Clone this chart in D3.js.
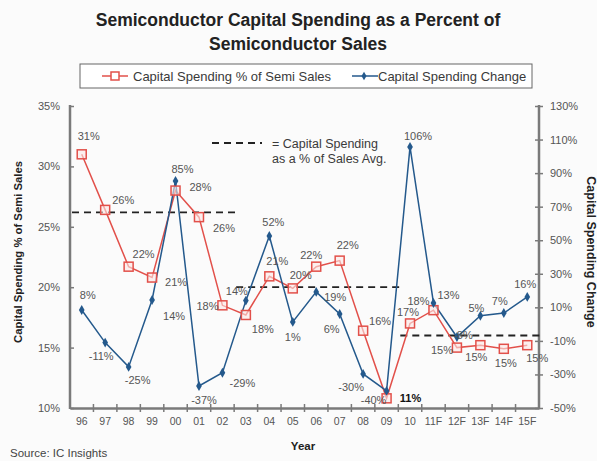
<!DOCTYPE html>
<html>
<head>
<meta charset="utf-8">
<script src="https://d3js.org/d3.v7.min.js"></script>
<style>
  body { margin: 0; background: #fbfbfb; }
  text { font-family: "Liberation Sans", Arial, sans-serif; }
</style>
</head>
<body>
<script>
// data ..........................................
var years = ["96","97","98","99","00","01","02","03","04","05","06","07","08","09","10","11F","12F","13F","14F","15F"];
var capexPct = [31, 26.4, 21.7, 20.8, 28, 25.8, 18.5, 17.7, 20.9, 19.9, 21.7, 22.2, 16.4, 10.8, 17, 18.1, 15, 15.2, 14.9, 15.2];
var capexPctLabels = ["31%","26%","22%","21%","28%","26%","18%","18%","21%","20%","22%","22%","16%","11%","17%","18%","15%","15%","15%","15%"];
var capexChange = [8.4, -11, -25.5, 14.4, 85.3, -36.9, -29, 14, 52.5, 1.3, 19.2, 6, -29.7, -39.8, 105.6, 12.6, -7.7, 5, 6.6, 16.2];
var capexChangeLabels = ["8%","-11%","-25%","14%","85%","-37%","-29%","14%","52%","1%","19%","6%","-30%","-40%","106%","13%","-8%","5%","7%","16%"];
var avgPeriods = [
  {from: "96", to: "02", value: 26.2},
  {from: "03", to: "09", value: 20.0},
  {from: "10", to: "15F", value: 16.0}
];
var leftTicks = [10, 15, 20, 25, 30, 35];
var rightTicks = [-50, -30, -10, 10, 30, 50, 70, 90, 110, 130];

// label offsets (layout only) .......................
var redOff = [[7,-18],[18,-10],[15,-13],[24,4],[25,-4],[25,11],[-15,1],[17,14],[8,-15],[8,-13],[-5,-12],[8,-16],[17,-10],[24,0],[-2,-11],[-15,-9],[-15,2],[-4,12],[2,14],[10,13]];
var blueOff = [[6,-15],[-4,13],[9,13],[22,16],[7,-12],[5,14],[20,10],[-9,-10],[4,-14],[0,15],[19,5],[-8,15],[-12,13],[-13,9],[8,-11],[15,-8],[6,-2],[-4,-8],[-4,-12],[-2,-13]];

var W = 597, H = 461;
var margin = {top: 106, left: 70, right: 58, bottom: 53};
var width = W - margin.left - margin.right;
var height = H - margin.top - margin.bottom;

var red = "#e2504a", blue = "#24598c", axisCol = "#7a7a7a", txt = "#3a3a3a";

var svg = d3.select("body").append("svg").attr("width", W).attr("height", H);

// title
svg.append("text").attr("x", 298).attr("y", 26).attr("text-anchor", "middle")
  .style("font-size", "17.5px").style("font-weight", "bold").attr("fill", "#222")
  .text("Semiconductor Capital Spending as a Percent of");
svg.append("text").attr("x", 298).attr("y", 50).attr("text-anchor", "middle")
  .style("font-size", "17.5px").style("font-weight", "bold").attr("fill", "#222")
  .text("Semiconductor Sales");

// legend
var lg = svg.append("g");
lg.append("rect").attr("x", 80).attr("y", 64).attr("width", 452).attr("height", 24)
  .attr("fill", "#fff").attr("stroke", "#666").attr("stroke-width", 1);
lg.append("line").attr("x1", 102).attr("x2", 128).attr("y1", 76).attr("y2", 76).attr("stroke", red).attr("stroke-width", 1.5);
lg.append("rect").attr("x", 111).attr("y", 72).attr("width", 8).attr("height", 8).attr("fill", "#fff").attr("stroke", red).attr("stroke-width", 1.5);
lg.append("text").attr("x", 133).attr("y", 80.5).style("font-size", "13px").attr("fill", txt).text("Capital Spending % of Semi Sales");
lg.append("line").attr("x1", 352).attr("x2", 378).attr("y1", 76).attr("y2", 76).attr("stroke", blue).attr("stroke-width", 1.5);
lg.append("path").attr("d", d3.symbol().type(d3.symbolDiamond).size(22)()).attr("transform", "translate(364,76)").attr("fill", blue);
lg.append("text").attr("x", 378).attr("y", 80.5).style("font-size", "13px").attr("fill", txt).text("Capital Spending Change");

var g = svg.append("g").attr("transform", "translate(" + margin.left + "," + margin.top + ")");

var x = d3.scaleBand().domain(years).range([0, width]);
var xc = function(d) { return x(d) + x.bandwidth() / 2; };
var yL = d3.scaleLinear().domain([10, 35]).range([height, 0]);
var yR = d3.scaleLinear().domain([-50, 130]).range([height, 0]);

// axes
var leftAxis = d3.axisLeft(yL).tickValues(leftTicks).tickFormat(function(d) { return d + "%"; }).tickSizeInner(4).tickSizeOuter(0).tickPadding(6);
var gl = g.append("g").call(leftAxis);
gl.selectAll(".tick line").attr("x2", 4);

var rightAxis = d3.axisRight(yR).tickValues(rightTicks).tickFormat(function(d) { return d + "%"; }).tickSizeInner(4).tickSizeOuter(0).tickPadding(7);
var gr = g.append("g").attr("transform", "translate(" + width + ",0)").call(rightAxis);
gr.selectAll(".tick line").attr("x2", 4).attr("x1", -4);

var bottomAxis = d3.axisBottom(x).tickSize(0).tickPadding(10);
var gb = g.append("g").attr("transform", "translate(0," + height + ")").call(bottomAxis);
// boundary ticks
g.append("g").selectAll("line").data(years.slice(1)).join("line")
  .attr("x1", function(d) { return x(d); }).attr("x2", function(d) { return x(d); })
  .attr("y1", height - 4).attr("y2", height + 4)
  .attr("stroke", axisCol).attr("stroke-width", 1.5);

[gl, gr, gb].forEach(function(a) {
  a.select(".domain").attr("stroke", axisCol).attr("stroke-width", 2.5);
  a.selectAll(".tick line").attr("stroke", axisCol).attr("stroke-width", 1.5);
  a.selectAll(".tick text").attr("fill", "#555").style("font-size", "11px");
});
gb.selectAll(".tick text").style("font-size", "10.5px");
gl.select(".domain").attr("d", "M0,-1V" + (height + 1));
gr.select(".domain").attr("d", "M0,-1V" + (height + 1));

// axis titles
svg.append("text").attr("transform", "translate(22,252) rotate(-90)")
  .attr("text-anchor", "middle").style("font-size", "11.3px").style("font-weight", "bold").attr("fill", "#222")
  .text("Capital Spending % of Semi Sales");
svg.append("text").attr("transform", "translate(587,252) rotate(90)")
  .attr("text-anchor", "middle").style("font-size", "12.5px").style("font-weight", "bold").attr("fill", "#222")
  .text("Capital Spending Change");
svg.append("text").attr("x", 303).attr("y", 450).attr("text-anchor", "middle")
  .style("font-size", "11.5px").style("font-weight", "bold").attr("fill", "#222").text("Year");
svg.append("text").attr("x", 10).attr("y", 457)
  .style("font-size", "11.5px").attr("fill", "#444").text("Source: IC Insights");

// average dashed lines
g.append("g").selectAll("line").data(avgPeriods).join("line")
  .attr("x1", function(d) { return x(d.from) + 2; })
  .attr("x2", function(d) { return x(d.to) + x.bandwidth() + 2; })
  .attr("y1", function(d) { return yL(d.value); }).attr("y2", function(d) { return yL(d.value); })
  .attr("stroke", "#222").attr("stroke-width", 1.8).attr("stroke-dasharray", "7,5");

// annotation
g.append("line").attr("x1", 142).attr("x2", 192).attr("y1", 37).attr("y2", 37)
  .attr("stroke", "#222").attr("stroke-width", 1.8).attr("stroke-dasharray", "7,5");
g.append("text").attr("x", 202).attr("y", 41.5).style("font-size", "12.5px").attr("fill", txt).text("= Capital Spending");
g.append("text").attr("x", 202).attr("y", 56.5).style("font-size", "12.5px").attr("fill", txt).text("as a % of Sales Avg.");

// red series
var lineL = d3.line().x(function(d, i) { return xc(years[i]); }).y(function(d) { return yL(d); });
g.append("path").datum(capexPct).attr("d", lineL).attr("fill", "none").attr("stroke", red).attr("stroke-width", 1.5);

// blue series
var lineR = d3.line().x(function(d, i) { return xc(years[i]); }).y(function(d) { return yR(d); });
g.append("path").datum(capexChange).attr("d", lineR).attr("fill", "none").attr("stroke", blue).attr("stroke-width", 1.5);

g.append("g").selectAll("rect").data(capexPct).join("rect")
  .attr("x", function(d, i) { return xc(years[i]) - 4.5; })
  .attr("y", function(d) { return yL(d) - 4.5; })
  .attr("width", 9).attr("height", 9)
  .attr("fill", "#fde8e6").attr("fill-opacity", 0.6).attr("stroke", red).attr("stroke-width", 1.5);

g.append("g").selectAll("path").data(capexChange).join("path")
  .attr("d", d3.symbol().type(d3.symbolDiamond).size(28)())
  .attr("transform", function(d, i) { return "translate(" + xc(years[i]) + "," + yR(d) + ")"; })
  .attr("fill", blue);

// labels
g.append("g").selectAll("text").data(capexPct).join("text")
  .attr("x", function(d, i) { return xc(years[i]) + redOff[i][0]; })
  .attr("y", function(d, i) { return yL(d) + redOff[i][1] + 4; })
  .attr("text-anchor", "middle")
  .style("font-size", "11px")
  .style("font-weight", function(d, i) { return years[i] === "09" ? "bold" : "normal"; })
  .attr("fill", function(d, i) { return years[i] === "09" ? "#111" : "#555"; })
  .text(function(d, i) { return capexPctLabels[i]; });

g.append("g").selectAll("text").data(capexChange).join("text")
  .attr("x", function(d, i) { return xc(years[i]) + blueOff[i][0]; })
  .attr("y", function(d, i) { return yR(d) + blueOff[i][1] + 4; })
  .attr("text-anchor", "middle")
  .style("font-size", "11px").attr("fill", "#555")
  .text(function(d, i) { return capexChangeLabels[i]; });
</script>
</body>
</html>
